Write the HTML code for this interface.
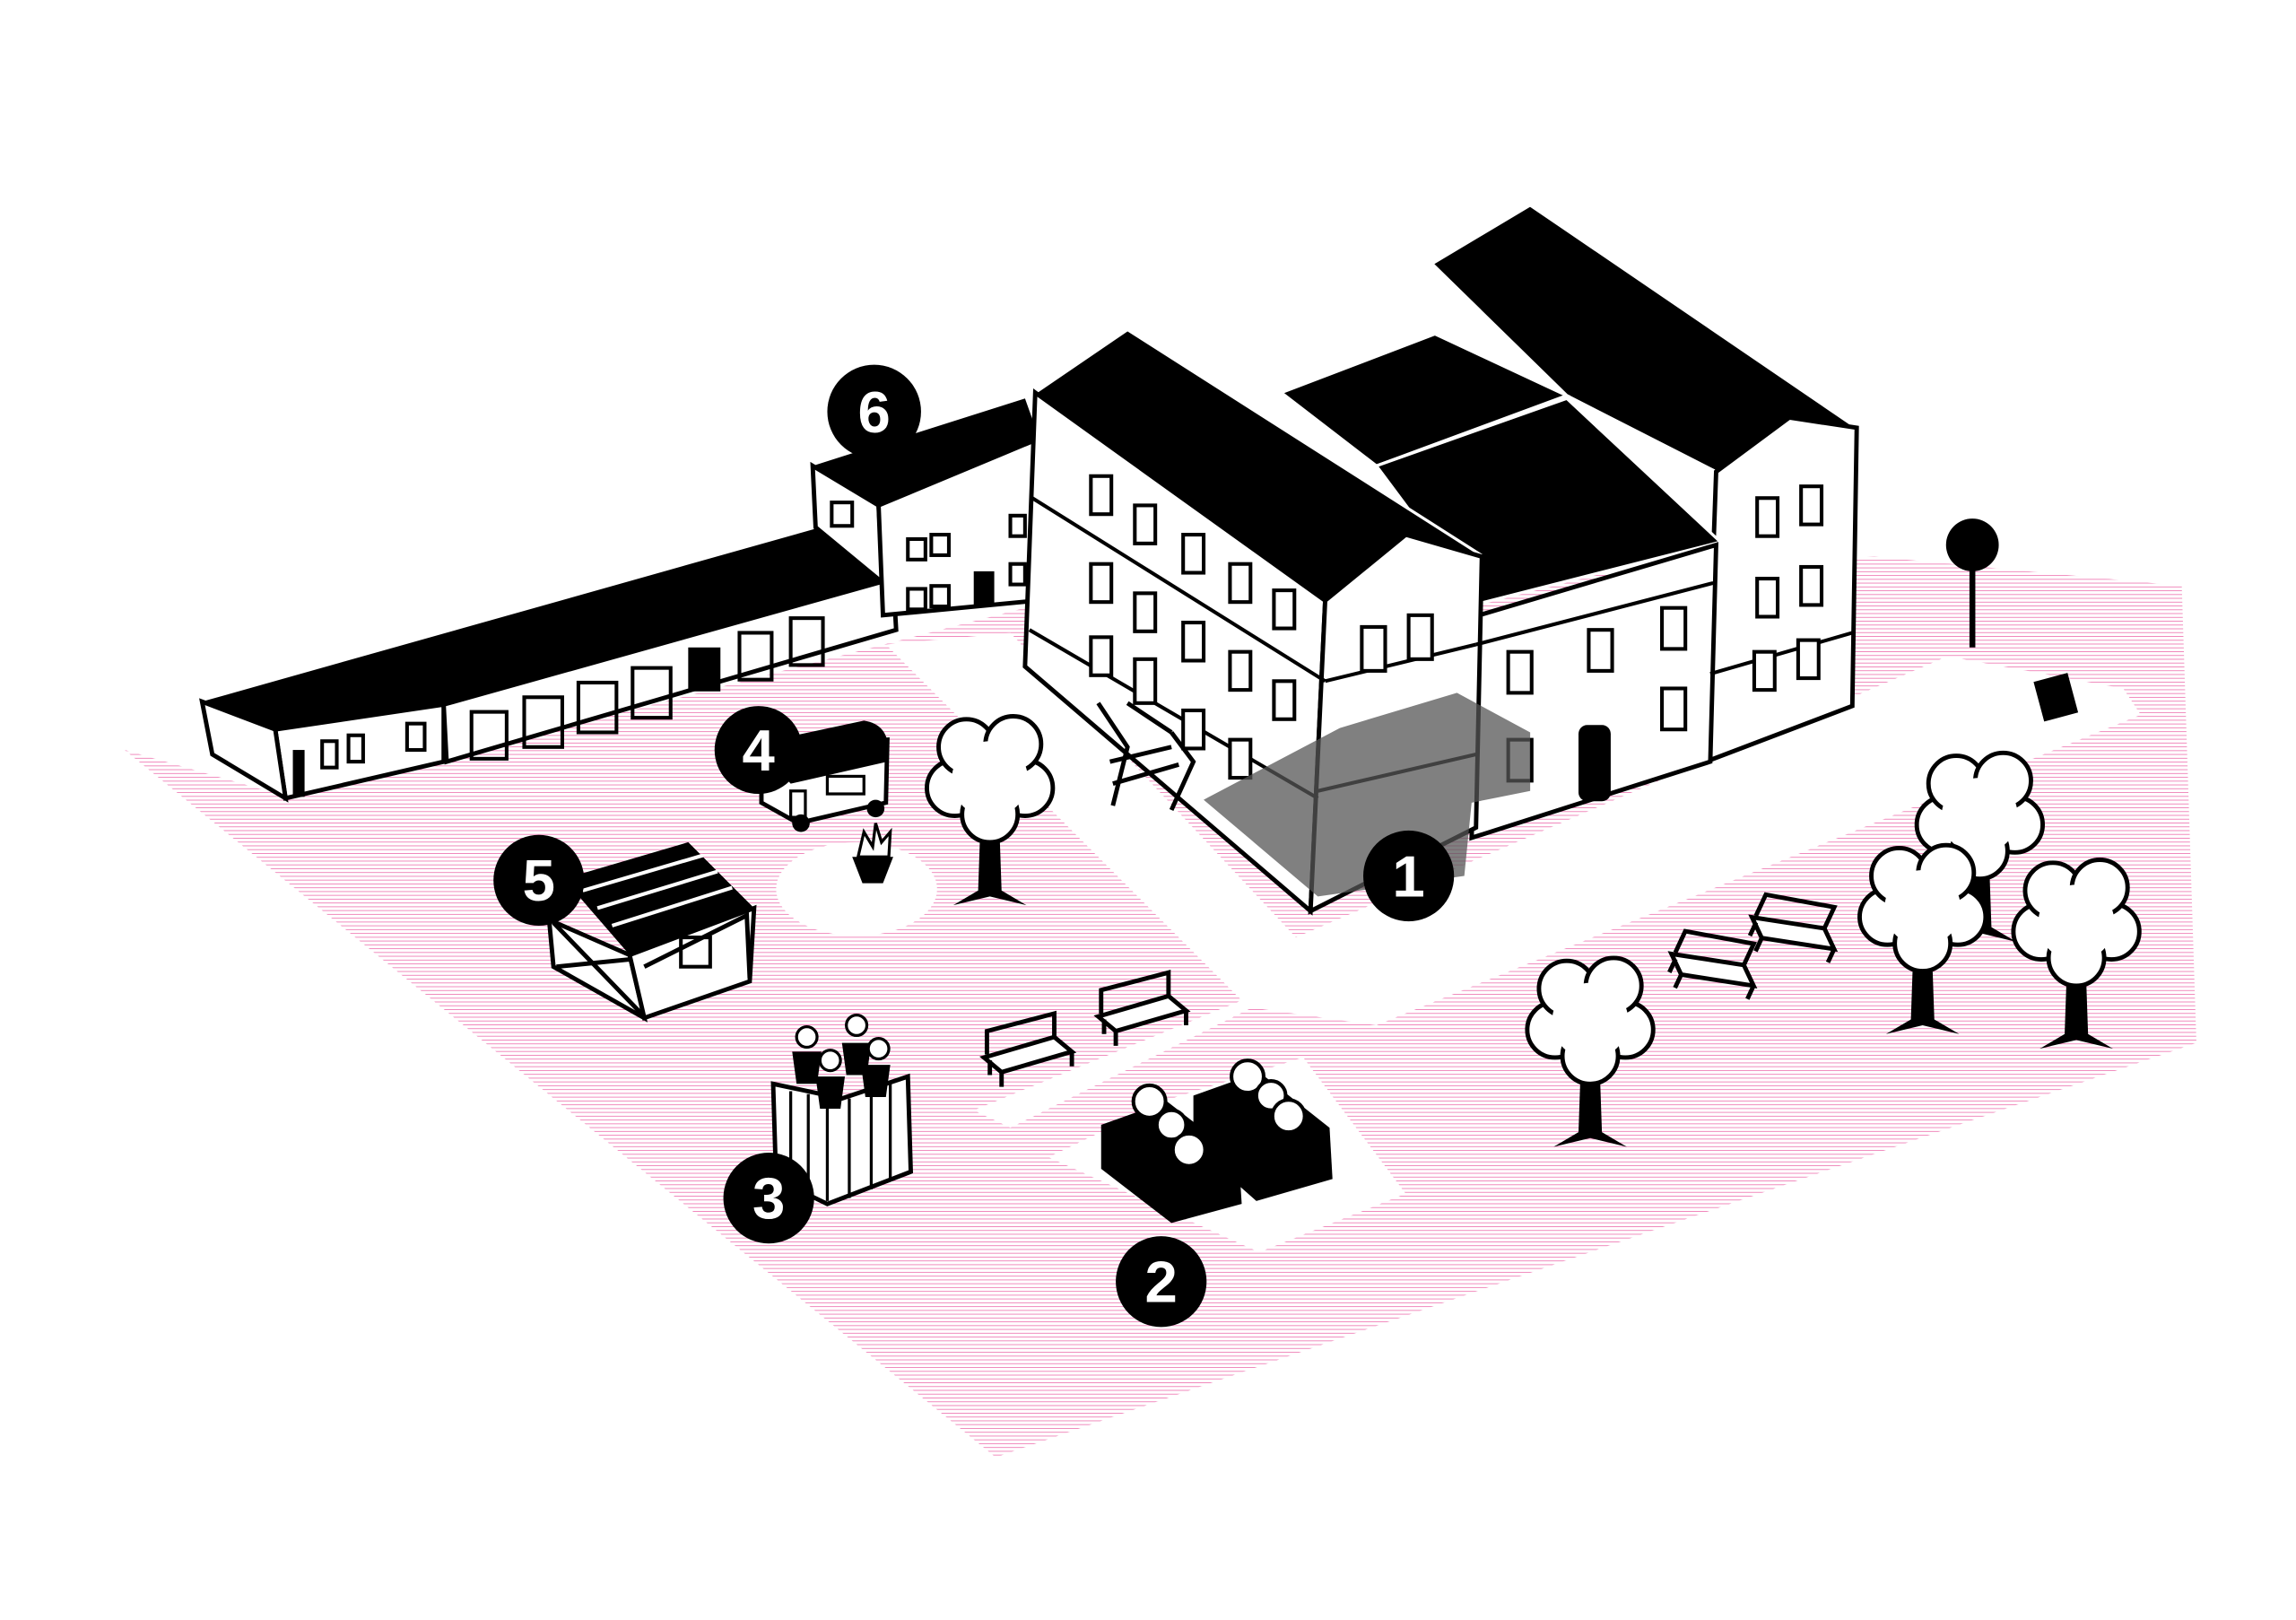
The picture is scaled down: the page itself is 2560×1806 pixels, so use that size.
<!DOCTYPE html>
<html><head><meta charset="utf-8"><style>
html,body{margin:0;padding:0;background:#fff;}
svg{display:block}
text{font-family:"Liberation Sans",sans-serif;font-weight:bold;fill:#fff;text-anchor:middle}
</style></head><body>
<svg width="2560" height="1806" viewBox="0 0 1568 1106" xmlns="http://www.w3.org/2000/svg">
<defs>
<pattern id="h" width="10" height="2.6" patternUnits="userSpaceOnUse">
<rect width="10" height="2.6" fill="#fff"/><rect width="10" height="0.55" fill="#ef7fb6"/>
</pattern>
<g id="tree">
<path d="M-6,20 L-8,78 L-25,88 L0,82 L25,88 L8,78 L6,20Z" fill="#000"/>
<g fill="#fff" stroke="#000" stroke-width="3">
<circle cx="-24" cy="8" r="19"/><circle cx="24" cy="8" r="19"/><circle cx="-16" cy="-20" r="19"/><circle cx="16" cy="-22" r="19"/><circle cx="0" cy="26" r="19"/>
</g>
<circle cx="0" cy="2" r="26" fill="#fff"/>
</g>
<g id="bench" fill="none" stroke="#000" stroke-width="3">
<path d="M0,22 L48,8 L60,18 L12,32Z" fill="#fff"/><path d="M2,20 L2,4 L48,-8 L48,8"/>
<path d="M12,32 L12,42 M60,18 L60,28 M4,24 L4,34"/>
</g>
</defs>
<rect width="1568" height="1106" fill="#fff"/>
<!-- ground -->
<polygon points="85,512 200,545 700,415 1280,380 1490,400 1500,712 680,995" fill="url(#h)"/>
<!-- white paths -->
<polygon points="605,440 690,432 885,640 1330,448 1450,470 1462,488 940,700 855,688 690,770 665,758 848,683" fill="#fff"/>
<polygon points="716,790 800,750 890,722 960,815 860,855" fill="#fff"/>
<ellipse cx="585" cy="607" rx="55" ry="32" fill="#fff"/>
<!-- long building -->
<polygon points="138,479 578,355 610,395 303,481 188,498" fill="#000"/>
<polygon points="188,498 303,481 303,520 195,545" fill="#fff" stroke="#000" stroke-width="3"/>
<polygon points="303,481 610,395 612,430 305,520" fill="#fff" stroke="#000" stroke-width="3"/>
<polygon points="138,479 188,498 195,545 145,515" fill="#fff" stroke="#000" stroke-width="3"/>
<g fill="none" stroke="#000" stroke-width="2.5">
<rect x="322" y="486" width="24" height="32"/><rect x="358" y="476" width="26" height="34"/><rect x="395" y="466" width="26" height="34"/><rect x="432" y="456" width="26" height="34"/>
<rect x="505" y="432" width="22" height="32"/><rect x="540" y="422" width="22" height="32"/>
<rect x="220" y="506" width="10" height="18"/><rect x="238" y="502" width="10" height="18"/><rect x="278" y="494" width="12" height="18"/>
</g>
<rect x="470" y="442" width="22" height="30" fill="#000"/><rect x="200" y="512" width="8" height="32" fill="#000"/>
<!-- tower 6 -->
<polygon points="555,318 700,272 710,300 600,345" fill="#000"/>
<polygon points="555,318 600,345 603,398 557,360" fill="#fff" stroke="#000" stroke-width="3"/>
<polygon points="600,345 708,300 708,410 603,420" fill="#fff" stroke="#000" stroke-width="3"/>
<g fill="none" stroke="#000" stroke-width="2.5"><rect x="568" y="343" width="14" height="16"/>
<rect x="620" y="368" width="12" height="14"/><rect x="636" y="365" width="12" height="14"/><rect x="620" y="402" width="12" height="14"/><rect x="636" y="400" width="12" height="14"/><rect x="690" y="352" width="10" height="14"/><rect x="690" y="385" width="10" height="14"/></g>
<rect x="665" y="390" width="14" height="24" fill="#000"/>
<!-- right building -->
<polygon points="978,180 1045,140 1268,292 1172,322 1070,270" fill="#000" stroke="#fff" stroke-width="2"/>
<polygon points="1172,322 1222,285 1268,292 1265,482 1165,520" fill="#fff" stroke="#000" stroke-width="3"/>
<!-- middle -->
<polygon points="875,268 980,228 1070,270 940,318" fill="#000" stroke="#fff" stroke-width="2"/>
<polygon points="940,318 1070,272 1175,370 1010,412" fill="#000" stroke="#fff" stroke-width="2"/>
<polygon points="1010,420 1172,372 1168,520 1005,572" fill="#fff" stroke="#000" stroke-width="3"/>
<!-- main building -->
<polygon points="707,268 770,225 1010,378 905,410" fill="#000" stroke="#fff" stroke-width="2"/>
<polygon points="707,268 905,410 895,622 700,455" fill="#fff" stroke="#000" stroke-width="3"/>
<polygon points="905,410 960,365 1012,380 1008,565 895,622" fill="#fff" stroke="#000" stroke-width="3"/>
<g fill="none" stroke="#000" stroke-width="2.5">
<line x1="705" y1="340" x2="905" y2="465"/><line x1="703" y1="430" x2="900" y2="545"/>
<line x1="905" y1="465" x2="1008" y2="440"/><line x1="900" y1="540" x2="1008" y2="515"/>
<line x1="1008" y1="440" x2="1170" y2="398"/><line x1="1168" y1="460" x2="1265" y2="432"/>
</g>
<g fill="#fff" stroke="#000" stroke-width="2.5">
<rect x="745" y="325" width="14" height="26"/><rect x="775" y="345" width="14" height="26"/><rect x="808" y="365" width="14" height="26"/><rect x="840" y="385" width="14" height="26"/><rect x="870" y="403" width="14" height="26"/>
<rect x="745" y="385" width="14" height="26"/><rect x="775" y="405" width="14" height="26"/><rect x="808" y="425" width="14" height="26"/><rect x="840" y="445" width="14" height="26"/><rect x="870" y="465" width="14" height="26"/>
<rect x="745" y="435" width="14" height="26"/><rect x="775" y="450" width="14" height="30"/><rect x="808" y="485" width="14" height="26"/><rect x="840" y="505" width="14" height="26"/>
<rect x="930" y="428" width="16" height="30"/><rect x="962" y="420" width="16" height="30"/>
<rect x="1030" y="445" width="16" height="28"/><rect x="1085" y="430" width="16" height="28"/><rect x="1135" y="415" width="16" height="28"/>
<rect x="1030" y="505" width="16" height="28"/><rect x="1135" y="470" width="16" height="28"/>
<rect x="1200" y="340" width="14" height="26"/><rect x="1230" y="332" width="14" height="26"/>
<rect x="1200" y="395" width="14" height="26"/><rect x="1230" y="387" width="14" height="26"/>
<rect x="1198" y="445" width="14" height="26"/><rect x="1228" y="437" width="14" height="26"/>
</g>
<rect x="1078" y="495" width="22" height="52" fill="#000" rx="6"/>
<!-- stairs -->
<g stroke="#000" stroke-width="3" fill="none"><path d="M750,480 L770,510 L760,550 M800,500 L815,520 L800,553 M770,480 L800,500"/><path d="M758,520 L800,510 M760,535 L805,522"/></g>
<!-- gray overlay -->
<polygon points="915,497 995,473 1045,500 1045,540 1005,548 1000,598 900,612 822,546" fill="#555" opacity="0.75"/>
<!-- caravan 4 -->
<path d="M520,510 L520,548 L545,562 L605,548 L606,505 Z" fill="#fff" stroke="#000" stroke-width="3"/>
<path d="M515,508 L590,492 Q610,495 606,520 L540,535 Z" fill="#000"/>
<rect x="565" y="530" width="25" height="12" fill="none" stroke="#000" stroke-width="2"/>
<rect x="540" y="540" width="10" height="18" fill="none" stroke="#000" stroke-width="2"/>
<circle cx="547" cy="562" r="6" fill="#000"/><circle cx="598" cy="552" r="6" fill="#000"/>
<!-- fire -->
<path d="M582,585 L610,585 L603,603 L589,603Z" fill="#000"/><path d="M586,585 L590,568 L596,578 L598,562 L602,575 L608,568 L607,585Z" fill="#fff" stroke="#000" stroke-width="2"/>
<!-- shed 5 -->
<polygon points="385,600 470,575 515,620 430,652" fill="#000"/>
<g stroke="#fff" stroke-width="2.5"><line x1="398" y1="608" x2="480" y2="584"/><line x1="408" y1="620" x2="490" y2="595"/><line x1="418" y1="632" x2="500" y2="606"/></g>
<polygon points="375,628 430,652 440,695 378,660" fill="#fff" stroke="#000" stroke-width="3"/>
<polygon points="430,652 515,620 512,670 440,695" fill="#fff" stroke="#000" stroke-width="3"/>
<path d="M378,630 L438,692 M430,655 L380,660 M440,660 L510,625 L512,668" stroke="#000" stroke-width="3" fill="none"/>
<rect x="465" y="640" width="20" height="20" fill="none" stroke="#000" stroke-width="2.5"/>
<!-- planter 3 -->
<polygon points="528,740 575,750 620,735 622,800 565,822 530,805" fill="#fff" stroke="#000" stroke-width="3"/>
<g stroke="#000" stroke-width="2"><line x1="540" y1="745" x2="540" y2="810"/><line x1="552" y1="747" x2="552" y2="815"/><line x1="565" y1="750" x2="565" y2="820"/><line x1="580" y1="750" x2="580" y2="818"/><line x1="595" y1="745" x2="595" y2="812"/><line x1="608" y1="740" x2="608" y2="806"/></g>
<g fill="#000"><path d="M541,718 h20 l-3,22 h-14z"/><path d="M557,735 h20 l-3,22 h-14z"/><path d="M575,712 h20 l-3,22 h-14z"/><path d="M588,727 h20 l-3,22 h-14z"/></g>
<g fill="#fff" stroke="#000" stroke-width="2"><circle cx="551" cy="708" r="7"/><circle cx="567" cy="724" r="7"/><circle cx="585" cy="700" r="7"/><circle cx="600" cy="716" r="7"/></g>
<!-- raised beds 2 -->
<polygon points="752,768 797,752 846,790 848,822 800,835 752,798" fill="#000"/>
<polygon points="815,748 860,732 908,770 910,805 858,820 815,782" fill="#000"/>
<g fill="#fff" stroke="#000" stroke-width="2.5"><circle cx="785" cy="752" r="11"/><circle cx="800" cy="768" r="10"/><circle cx="812" cy="785" r="11"/><circle cx="852" cy="735" r="11"/><circle cx="868" cy="748" r="10"/><circle cx="880" cy="762" r="11"/></g>
<!-- benches -->
<use href="#bench" x="672" y="700"/><use href="#bench" x="750" y="672"/>
<use href="#bench" x="1140" y="640" transform="rotate(25 1165 660)"/><use href="#bench" x="1195" y="615" transform="rotate(25 1220 635)"/>
<!-- trees -->
<use href="#tree" x="676" y="530"/><use href="#tree" x="1352" y="555"/><use href="#tree" x="1313" y="618"/><use href="#tree" x="1418" y="628"/><use href="#tree" x="1086" y="695"/>
<!-- lamp & sign -->
<line x1="1347" y1="380" x2="1347" y2="442" stroke="#000" stroke-width="4"/><circle cx="1347" cy="372" r="18" fill="#000"/>
<rect x="1392" y="462" width="24" height="28" fill="#000" transform="rotate(-15 1404 476)"/>
<!-- numbers -->
<g>
<circle cx="597" cy="281" r="32" fill="#000"/><text x="597" y="295" font-size="40">6</text>
<circle cx="518" cy="512" r="30" fill="#000"/><text x="518" y="526" font-size="40">4</text>
<circle cx="368" cy="601" r="31" fill="#000"/><text x="368" y="615" font-size="40">5</text>
<circle cx="525" cy="818" r="31" fill="#000"/><text x="525" y="832" font-size="40">3</text>
<circle cx="793" cy="875" r="31" fill="#000"/><text x="793" y="889" font-size="40">2</text>
<circle cx="962" cy="598" r="31" fill="#000"/><text x="962" y="612" font-size="40">1</text>
</g>
</svg>
</body></html>
